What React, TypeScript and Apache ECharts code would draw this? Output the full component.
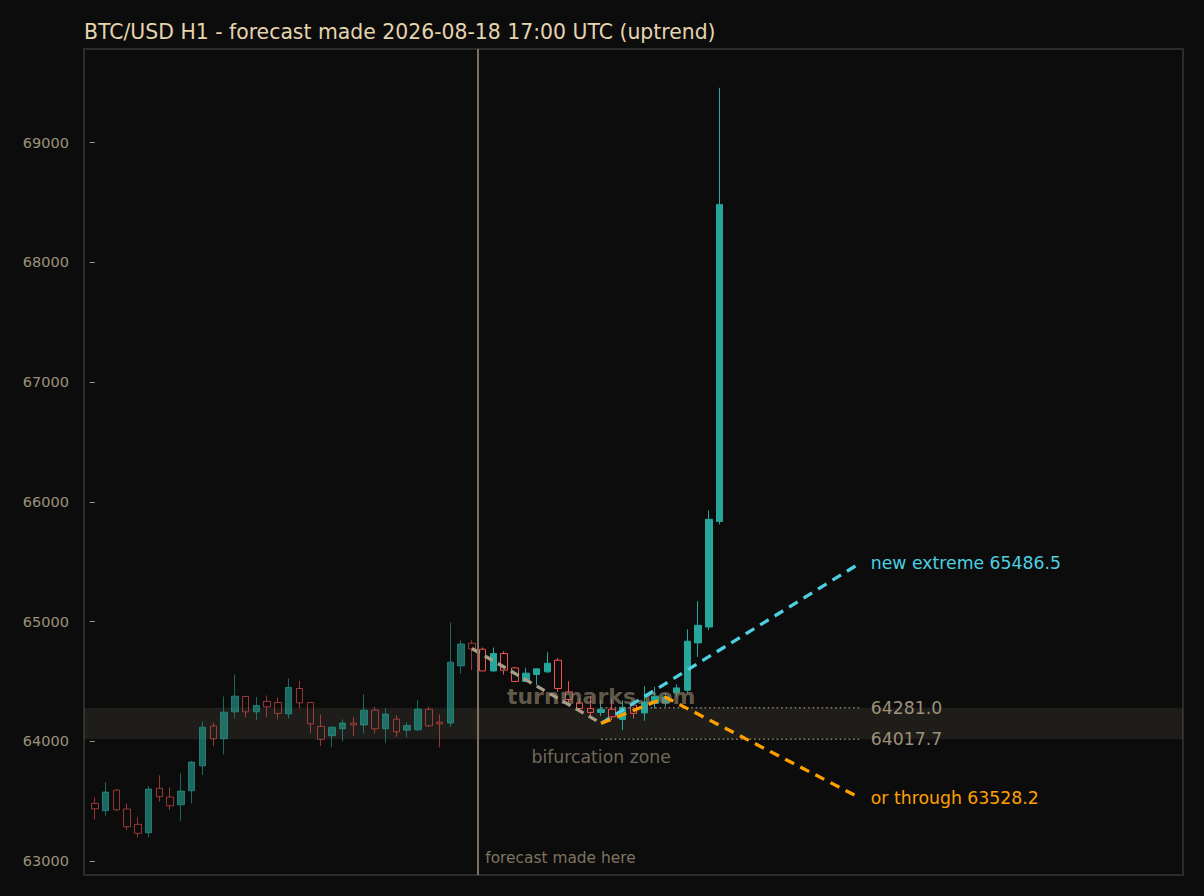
import { useEffect, useRef } from "react";
import * as echarts from "echarts";

const TITLE = "BTC/USD H1 - forecast made 2026-08-18 17:00 UTC (uptrend)";

// hourly candles, index 0 = first bar on the chart
const OPEN = [
	63481, 63420, 63592, 63434, 63306, 63236, 63607, 63534, 63470, 63587,
	63795, 64127, 64021, 64246, 64374, 64246, 64333, 64324, 64229, 64441,
	64324, 64124, 64046, 64104, 64152, 64137, 64260, 64104, 64185, 64093,
	64096, 64268, 64160, 64152, 64630, 64819, 64769, 64588, 64733, 64613,
	64500, 64558, 64580, 64677, 64413, 64321, 64274, 64241, 64268, 64182,
	64302, 64237, 64316, 64320, 64404, 64427, 64822, 64955, 65837
];
const CLOSE = [
	63436, 63576, 63428, 63286, 63231, 63601, 63537, 63461, 63584, 63826,
	64118, 64021, 64243, 64377, 64246, 64299, 64288, 64233, 64450, 64321,
	64146, 64016, 64118, 64152, 64137, 64260, 64104, 64227, 64079, 64132,
	64268, 64129, 64146, 64661, 64813, 64772, 64588, 64733, 64594, 64500,
	64569, 64605, 64652, 64441, 64349, 64274, 64241, 64268, 64204, 64283,
	64233, 64329, 64377, 64370, 64446, 64836, 64969, 65854, 68483
];
const LOW = [
	63348, 63378, 63420, 63259, 63198, 63198, 63495, 63426, 63336, 63481,
	63718, 63960, 63890, 64191, 64199, 64177, 64204, 64182, 64191, 64274,
	64066, 63960, 63949, 63999, 64046, 64066, 64066, 63987, 64037, 64032,
	64087, 64121, 63949, 64121, 64566, 64594, 64586, 64580, 64558, 64496,
	64496, 64469, 64571, 64413, 64316, 64246, 64218, 64210, 64177, 64093,
	64191, 64171, 64274, 64290, 64371, 64400, 64705, 64928, 65812
];
const HIGH = [
	63532, 63657, 63600, 63481, 63365, 63626, 63715, 63615, 63732, 63834,
	64166, 64157, 64374, 64558, 64380, 64371, 64383, 64366, 64525, 64505,
	64329, 64224, 64122, 64182, 64204, 64391, 64288, 64274, 64218, 64160,
	64343, 64288, 64224, 64992, 64844, 64844, 64783, 64783, 64752, 64621,
	64613, 64608, 64744, 64696, 64502, 64358, 64371, 64343, 64358, 64343,
	64343, 64460, 64455, 64400, 64475, 64936, 65170, 65929, 69459
];

const FORECAST_AT = 35.5;
const Y_TICKS = [63000, 64000, 65000, 66000, 67000, 68000, 69000];

const LEAD_IN = [[35, 64775], [47, 64150]];
const PATH_UP = [[47, 64150], [71, 65486.5]];
const PATH_DOWN = [[47, 64150], [53, 64366], [71, 63528.2]];
const ZONE_LOW = 64017.7;
const ZONE_HIGH = 64281.0;
const ZONE_FROM = 47;
const ZONE_TO = 71;

const FONT = "DejaVu Sans";
const GREEN = "#26a69a";
const RED = "#ef5350";
const MUTED = "#9c917a";
const CYAN = "#4dd0e1";
const ORANGE = "#ffa000";
const LABEL_SIZE = 17.3;

function candles(from: number, to: number) {
	const out: number[][] = [];
	for (let i = from; i < to; i++) out.push([i, OPEN[i], CLOSE[i], LOW[i], HIGH[i]]);
	return out;
}

function note(text: string, x: number, y: number, style: Record<string, unknown>) {
	return {
		type: "scatter",
		silent: true,
		symbolSize: 0,
		data: [[x, y]],
		label: { show: true, formatter: text, fontFamily: FONT, ...style }
	};
}

export default function App() {
	const chartRef = useRef<HTMLDivElement>(null);

	useEffect(() => {
		document.body.style.margin = "0";
		if (!chartRef.current) return;
		const chart = echarts.init(chartRef.current, undefined, { renderer: "svg" });

		const candleStyle = (opacity: number) => ({
			color: GREEN,
			color0: "transparent",
			borderColor: GREEN,
			borderColor0: RED,
			borderWidth: 1,
			opacity
		});

		const endLabel = (text: string, color: string) => ({
			show: true,
			formatter: text,
			color,
			fontSize: LABEL_SIZE,
			distance: 11,
			fontFamily: FONT
		});

		chart.setOption({
			animation: false,
			backgroundColor: "#0c0c0c",
			textStyle: { fontFamily: FONT },
			title: {
				text: TITLE,
				left: 84,
				top: 22,
				padding: 0,
				textStyle: { color: "#e5d4ae", fontSize: 20.4, fontWeight: "normal", fontFamily: FONT }
			},
			grid: {
				left: 84,
				right: 21,
				top: 49,
				bottom: 21,
				show: true,
				borderColor: "#2b2b2b",
				borderWidth: 2,
				backgroundColor: "transparent"
			},
			xAxis: {
				type: "value",
				min: -1,
				max: 101,
				axisLine: { show: false },
				axisTick: { show: false },
				axisLabel: { show: false },
				splitLine: { show: false }
			},
			yAxis: {
				type: "value",
				min: 62883,
				max: 69783,
				axisLine: { show: false },
				splitLine: { show: false },
				axisTick: { show: true, length: 5, lineStyle: { color: MUTED }, customValues: Y_TICKS },
				axisLabel: {
					color: MUTED,
					fontSize: 14.5,
					margin: 15,
					fontFamily: FONT,
					customValues: Y_TICKS,
					formatter: (v: number) => String(v)
				}
			},
			series: [
				{
					type: "candlestick",
					silent: true,
					barWidth: 7,
					encode: { x: 0, y: [1, 2, 3, 4] },
					data: candles(0, Math.ceil(FORECAST_AT)),
					itemStyle: candleStyle(0.6)
				},
				{
					type: "candlestick",
					silent: true,
					barWidth: 7,
					encode: { x: 0, y: [1, 2, 3, 4] },
					data: candles(Math.ceil(FORECAST_AT), OPEN.length),
					itemStyle: candleStyle(1)
				},
				note("turnmarks.com", ZONE_FROM, 64370, {
					position: "inside",
					fontSize: 22,
					fontWeight: "bold",
					color: "rgba(140, 128, 105, 0.85)"
				}),
				{
					type: "line",
					silent: true,
					symbol: "none",
					data: [[ZONE_FROM, ZONE_HIGH], [ZONE_TO, ZONE_HIGH]],
					lineStyle: { color: "#8c8270", width: 1.5, type: [1.5, 3] },
					endLabel: endLabel(ZONE_HIGH.toFixed(1), MUTED),
					markArea: {
						silent: true,
						itemStyle: { color: "rgba(140, 125, 100, 0.15)" },
						data: [[{ yAxis: ZONE_LOW }, { yAxis: ZONE_HIGH }]]
					}
				},
				{
					type: "line",
					silent: true,
					symbol: "none",
					data: [[ZONE_FROM, ZONE_LOW], [ZONE_TO, ZONE_LOW]],
					lineStyle: { color: "#8c8270", width: 1.5, type: [1.5, 3] },
					endLabel: endLabel(ZONE_LOW.toFixed(1), MUTED)
				},
				{
					type: "line",
					silent: true,
					symbol: "none",
					data: LEAD_IN,
					lineStyle: { color: "#a89e87", width: 3.3, type: [9, 6] },
					markLine: {
						silent: true,
						symbol: ["none", "none"],
						label: { show: false },
						lineStyle: { color: "#7d7261", width: 2, type: "solid" },
						data: [{ xAxis: FORECAST_AT }]
					}
				},
				{
					type: "line",
					silent: true,
					symbol: "none",
					data: PATH_UP,
					lineStyle: { color: CYAN, width: 3.3, type: [10, 7] },
					endLabel: endLabel(`new extreme ${PATH_UP[PATH_UP.length - 1][1]}`, CYAN)
				},
				{
					type: "line",
					silent: true,
					symbol: "none",
					data: PATH_DOWN,
					lineStyle: { color: ORANGE, width: 3.3, type: [10, 7] },
					endLabel: endLabel(`or through ${PATH_DOWN[PATH_DOWN.length - 1][1]}`, ORANGE)
				},
				note("bifurcation zone", ZONE_FROM, 63869, { position: "inside", fontSize: LABEL_SIZE, color: "#8c8270" }),
				note("forecast made here", FORECAST_AT, 63025, { position: "right", distance: 8, fontSize: 15.4, color: MUTED })
			]
		});

		return () => chart.dispose();
	}, []);

	return <div ref={chartRef} style={{ width: 1204, height: 896 }} />;
}
